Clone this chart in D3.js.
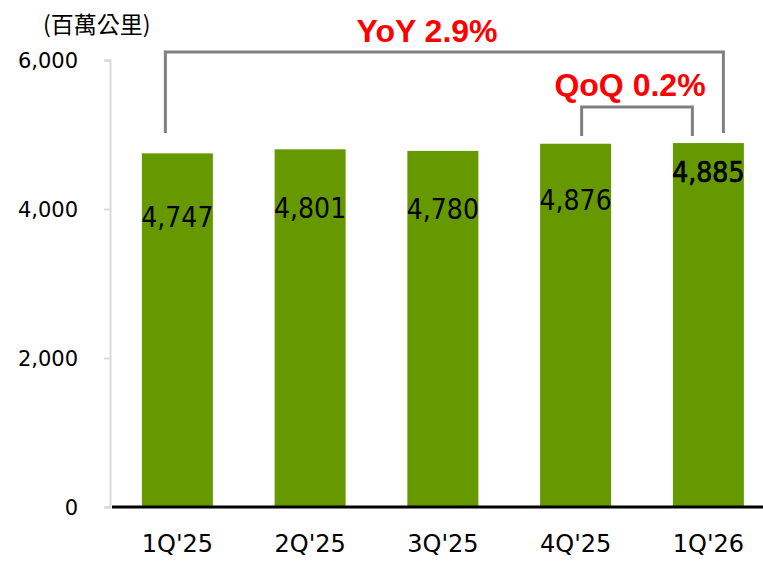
<!DOCTYPE html>
<html>
<head>
<meta charset="utf-8">
<script src="https://cdn.jsdelivr.net/npm/d3@7"></script>
<style>
  body { margin: 0; background: #fff; }
  svg { display: block; }
  .tick-label { font-family: "DejaVu Sans", sans-serif; font-size: 21px; fill: #000; }
  .cat-label { font-family: "DejaVu Sans", sans-serif; font-size: 24px; fill: #000; }
  .val-label { font-family: "DejaVu Sans Condensed", "DejaVu Sans", sans-serif; font-stretch: condensed; font-size: 28px; fill: #000; }
  .unit { font-family: "Noto Sans CJK TC", sans-serif; font-size: 23px; fill: #000; }
  .growth { font-family: "Liberation Sans", Arial, sans-serif; font-weight: bold; fill: #ff0000; }
</style>
</head>
<body>
<div id="chart"></div>
<script>
// data
var quarters = ["1Q'25", "2Q'25", "3Q'25", "4Q'25", "1Q'26"];
var distance = [4747, 4801, 4780, 4876, 4885];
var yTicks = [0, 2000, 4000, 6000];
var unitLabel = "(百萬公里)";
var yoyLabel = "YoY 2.9%";
var qoqLabel = "QoQ 0.2%";

var width = 763, height = 561;
var barColor = '#669900';
var bracketColor = '#808080';

var svg = d3.select('#chart').append('svg')
    .attr('width', width)
    .attr('height', height);

var xScale = d3.scaleBand()
    .domain(quarters)
    .range([111, 774.75])
    .paddingInner(0.465)
    .paddingOuter(0.2325);

var yScale = d3.scaleLinear()
    .domain([0, 6000])
    .range([507, 60]);

// y axis line + ticks
var yAxis = d3.axisLeft(yScale)
    .tickValues(yTicks)
    .tickSize(6)
    .tickFormat(d3.format(','));

var yG = svg.append('g')
    .attr('transform', 'translate(110,0)')
    .call(yAxis);
yG.select('.domain').attr('stroke', '#d9d9d9').attr('stroke-width', 2);
yG.selectAll('.tick line').attr('stroke', '#d9d9d9').attr('stroke-width', 2);
yG.selectAll('.tick text')
    .attr('class', 'tick-label')
    .attr('x', -32)
    .attr('dy', '0.35em')
    .attr('font-family', null)
    .attr('font-size', null);

// unit label
svg.append('text')
    .attr('class', 'unit')
    .attr('x', 43)
    .attr('y', 33)
    .text(unitLabel);

// bars
svg.append('g').selectAll('rect')
    .data(distance)
    .enter().append('rect')
    .attr('x', function (d, i) { return xScale(quarters[i]); })
    .attr('y', function (d) { return yScale(d); })
    .attr('width', xScale.bandwidth())
    .attr('height', function (d) { return yScale(0) - yScale(d); })
    .attr('fill', barColor);

// value labels (offset below bar top varies per bar in the original)
var labelDy = [64, 59, 58, 56, 29];
svg.append('g').selectAll('text')
    .data(distance)
    .enter().append('text')
    .attr('class', 'val-label')
    .attr('x', function (d, i) { return xScale(quarters[i]) + xScale.bandwidth() / 2; })
    .attr('y', function (d, i) { return yScale(d) + labelDy[i]; })
    .attr('dy', '0.36em')
    .attr('text-anchor', 'middle')
    .attr('stroke', function (d, i) { return i === 4 ? '#000' : 'none'; })
    .attr('stroke-width', 0.7)
    .text(d3.format(','));

// x axis baseline
var xAxis = d3.axisBottom(xScale).tickSize(0).tickPadding(28);
var xG = svg.append('g')
    .attr('transform', 'translate(0,' + yScale(0) + ')')
    .call(xAxis);
xG.select('.domain').remove();
xG.append('line')
    .attr('x1', 112).attr('x2', width)
    .attr('y1', 0).attr('y2', 0)
    .attr('stroke', '#000')
    .attr('stroke-width', 3);
xG.selectAll('.tick text')
    .attr('class', 'cat-label')
    .attr('font-family', null)
    .attr('font-size', null);

// growth brackets
function center(q) { return xScale(q) + xScale.bandwidth() / 2; }

var yoyL = center(quarters[0]) - 12, yoyR = center(quarters[4]) + 15;
svg.append('path')
    .attr('d', 'M' + yoyL + ',133V52H' + yoyR + 'V133')
    .attr('fill', 'none')
    .attr('stroke', bracketColor)
    .attr('stroke-width', 3);

var qoqL = center(quarters[3]) + 6, qoqR = center(quarters[4]) - 16;
svg.append('path')
    .attr('d', 'M' + qoqL + ',136V107H' + qoqR + 'V136')
    .attr('fill', 'none')
    .attr('stroke', bracketColor)
    .attr('stroke-width', 3);

svg.append('text')
    .attr('class', 'growth')
    .attr('x', 427)
    .attr('y', 42)
    .attr('font-size', 32)
    .attr('text-anchor', 'middle')
    .text(yoyLabel);

svg.append('text')
    .attr('class', 'growth')
    .attr('x', 630)
    .attr('y', 96)
    .attr('font-size', 32)
    .attr('text-anchor', 'middle')
    .text(qoqLabel);
</script>
</body>
</html>
